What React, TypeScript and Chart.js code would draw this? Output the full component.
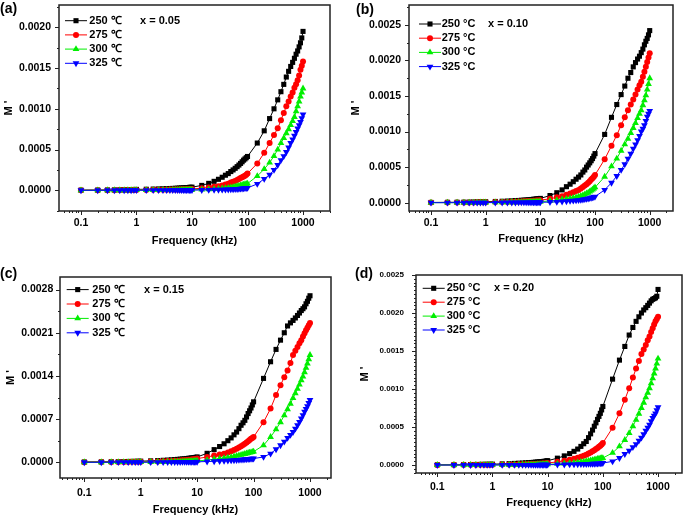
import React, { useEffect, useRef } from 'react';
import { Chart, registerables } from 'chart.js';

Chart.register(...registerables);

const FONT = '"Liberation Sans", Arial, Helvetica, sans-serif';

// Frequency (kHz)
const freq = [
  0.1, 0.2, 0.3, 0.4, 0.5, 0.6, 0.7, 0.8, 0.9, 1,
  1.5, 2, 2.5, 3, 3.5, 4, 4.5, 5, 5.5, 6, 6.5, 7, 7.5, 8, 8.5, 9, 9.5, 10,
  15, 20, 25, 30, 35, 40, 45, 50, 55, 60, 65, 70, 75, 80, 85, 90, 95, 100,
  150, 200, 250, 300, 350, 400, 450, 500, 550, 600, 650, 700, 750, 800, 850, 900, 950, 1000,
];

const xTickValues = [0.1, 1, 10, 100, 1000];
const xTickLabels = ['0.1', '1', '10', '100', '1000'];

// M' values, in units of 1e-4
// (a) x = 0.05
const a250 = [
  0.02, 0.03, 0.04, 0.05, 0.06, 0.07, 0.08, 0.09, 0.10, 0.11,
  0.13, 0.15, 0.17, 0.19, 0.20, 0.22, 0.23, 0.25, 0.26, 0.28, 0.29, 0.30, 0.32, 0.33, 0.34, 0.36, 0.37, 0.38,
  0.60, 0.85, 1.10, 1.35, 1.60, 1.85, 2.05, 2.30, 2.50, 2.70, 2.90, 3.10, 3.30, 3.50, 3.70, 3.85, 4.00, 4.15,
  5.8, 7.3, 8.8, 10.0, 11.1, 12.1, 13.0, 13.9, 14.6, 15.2, 15.7, 16.2, 16.7, 17.1, 17.6, 18.1, 18.7, 19.5,
];
const a275 = [
  0.01, 0.01, 0.02, 0.02, 0.03, 0.03, 0.03, 0.04, 0.04, 0.04,
  0.05, 0.06, 0.07, 0.07, 0.08, 0.09, 0.09, 0.10, 0.11, 0.11, 0.12, 0.13, 0.13, 0.14, 0.15, 0.15, 0.16, 0.17,
  0.25, 0.35, 0.43, 0.50, 0.60, 0.70, 0.80, 0.95, 1.05, 1.15, 1.25, 1.40, 1.50, 1.60, 1.70, 1.80, 1.90, 2.05,
  3.3, 4.6, 5.8, 6.8, 7.6, 8.6, 9.5, 10.3, 10.9, 11.5, 12.0, 12.6, 13.0, 13.5, 14.1, 14.8, 15.3, 15.8,
];
const a300 = [
  0, 0, 0.01, 0.01, 0.01, 0.01, 0.01, 0.01, 0.02, 0.02,
  0.02, 0.02, 0.03, 0.03, 0.03, 0.03, 0.04, 0.04, 0.04, 0.04, 0.05, 0.05, 0.05, 0.05, 0.06, 0.06, 0.06, 0.06,
  0.09, 0.12, 0.15, 0.18, 0.22, 0.26, 0.30, 0.35, 0.40, 0.45, 0.50, 0.55, 0.60, 0.65, 0.70, 0.74, 0.78, 0.82,
  1.75, 2.6, 3.4, 4.2, 5.0, 5.8, 6.4, 7.0, 7.5, 8.0, 8.5, 9.0, 9.7, 10.3, 10.9, 11.5, 12.0, 12.5,
];
const a325 = [
  0, 0, 0, 0, 0, 0, 0, 0, 0.01, 0.01,
  0.01, 0.01, 0.01, 0.01, 0.01, 0.02, 0.02, 0.02, 0.02, 0.02, 0.02, 0.02, 0.02, 0.02, 0.03, 0.03, 0.03, 0.03,
  0.04, 0.05, 0.06, 0.07, 0.08, 0.09, 0.10, 0.11, 0.13, 0.14, 0.16, 0.18, 0.20, 0.22, 0.24, 0.26, 0.28, 0.30,
  0.78, 1.4, 1.9, 2.5, 3.1, 3.7, 4.2, 4.7, 5.25, 5.8, 6.25, 6.7, 7.15, 7.6, 8.0, 8.4, 8.85, 9.3,
];

// (b) x = 0.10
const b250 = [
  0.03, 0.05, 0.06, 0.07, 0.08, 0.09, 0.10, 0.11, 0.12, 0.13,
  0.17, 0.20, 0.23, 0.26, 0.29, 0.31, 0.34, 0.36, 0.38, 0.41, 0.43, 0.45, 0.48, 0.50, 0.52, 0.55, 0.57, 0.60,
  1.0, 1.4, 1.8, 2.25, 2.6, 2.95, 3.3, 3.6, 3.9, 4.3, 4.6, 5.0, 5.3, 5.6, 5.9, 6.2, 6.55, 6.9,
  9.6, 12.0, 13.8, 15.2, 16.4, 17.5, 18.3, 19.1, 19.7, 20.2, 20.6, 21.1, 21.6, 22.2, 22.7, 23.1, 23.6, 24.2,
];
const b275 = [
  0.02, 0.02, 0.03, 0.03, 0.04, 0.04, 0.05, 0.05, 0.06, 0.06,
  0.08, 0.10, 0.11, 0.13, 0.14, 0.16, 0.17, 0.19, 0.20, 0.22, 0.23, 0.24, 0.26, 0.27, 0.29, 0.30, 0.32, 0.35,
  0.55, 0.75, 0.92, 1.1, 1.3, 1.45, 1.65, 1.8, 2.0, 2.2, 2.4, 2.6, 2.8, 3.0, 3.25, 3.45, 3.65, 3.9,
  6.1, 8.0, 9.5, 10.9, 12.0, 13.0, 13.8, 14.5, 15.2, 15.9, 16.5, 17.0, 17.7, 18.4, 19.1, 19.8, 20.4, 21.0,
];
const b300 = [
  0.01, 0.01, 0.01, 0.02, 0.02, 0.02, 0.02, 0.03, 0.03, 0.03,
  0.04, 0.05, 0.05, 0.06, 0.07, 0.07, 0.08, 0.08, 0.09, 0.09, 0.10, 0.10, 0.11, 0.11, 0.12, 0.12, 0.13, 0.14,
  0.25, 0.35, 0.45, 0.52, 0.60, 0.68, 0.76, 0.85, 0.95, 1.05, 1.15, 1.3, 1.4, 1.55, 1.7, 1.85, 2.0, 2.15,
  3.65, 5.1, 6.2, 7.3, 8.2, 9.0, 9.8, 10.5, 11.2, 11.9, 12.5, 13.0, 13.7, 14.4, 15.1, 15.9, 16.7, 17.5,
];
const b325 = [
  0, 0, 0, 0.01, 0.01, 0.01, 0.01, 0.01, 0.01, 0.01,
  0.01, 0.02, 0.02, 0.02, 0.02, 0.03, 0.03, 0.03, 0.03, 0.03, 0.04, 0.04, 0.04, 0.04, 0.04, 0.05, 0.05, 0.05,
  0.09, 0.12, 0.16, 0.2, 0.24, 0.28, 0.32, 0.35, 0.4, 0.44, 0.49, 0.54, 0.59, 0.64, 0.69, 0.74, 0.8, 0.85,
  1.8, 2.8, 3.75, 4.6, 5.4, 6.2, 6.9, 7.6, 8.2, 8.8, 9.4, 10.0, 10.4, 10.9, 11.5, 12.1, 12.5, 12.9,
];

// (c) x = 0.15
const c250 = [
  0.05, 0.07, 0.09, 0.10, 0.12, 0.13, 0.14, 0.15, 0.17, 0.18,
  0.23, 0.28, 0.32, 0.36, 0.40, 0.44, 0.47, 0.51, 0.54, 0.57, 0.61, 0.64, 0.67, 0.70, 0.73, 0.77, 0.80, 0.86,
  1.45, 2.05, 2.55, 3.0, 3.5, 3.95, 4.45, 4.9, 5.45, 6.0, 6.4, 6.8, 7.35, 7.9, 8.35, 8.8, 9.3, 9.8,
  13.6, 16.3, 18.3, 19.8, 21.0, 22.1, 22.6, 23.0, 23.4, 23.8, 24.2, 24.6, 24.9, 25.2, 25.7, 26.1, 26.6, 27.0,
];
const c275 = [
  0.02, 0.03, 0.04, 0.05, 0.05, 0.06, 0.07, 0.07, 0.08, 0.08,
  0.11, 0.14, 0.16, 0.19, 0.21, 0.24, 0.26, 0.29, 0.31, 0.34, 0.36, 0.39, 0.41, 0.44, 0.47, 0.50, 0.53, 0.60,
  0.85, 1.1, 1.25, 1.4, 1.6, 1.8, 2.0, 2.2, 2.4, 2.6, 2.8, 3.0, 3.2, 3.4, 3.6, 3.8, 3.95, 4.1,
  6.5, 8.7, 10.9, 12.5, 13.8, 14.9, 16.1, 17.4, 18.1, 18.7, 19.3, 19.8, 20.4, 20.9, 21.4, 21.8, 22.2, 22.6,
];
const c300 = [
  0.01, 0.01, 0.02, 0.02, 0.02, 0.03, 0.03, 0.03, 0.03, 0.04,
  0.05, 0.06, 0.07, 0.08, 0.09, 0.10, 0.11, 0.12, 0.13, 0.14, 0.15, 0.16, 0.17, 0.18, 0.19, 0.20, 0.21, 0.22,
  0.35, 0.5, 0.6, 0.68, 0.76, 0.85, 0.95, 1.05, 1.12, 1.2, 1.28, 1.35, 1.43, 1.5, 1.56, 1.62, 1.67, 1.72,
  2.75, 4.1, 5.35, 6.5, 7.6, 8.6, 9.5, 10.4, 11.2, 11.9, 12.6, 13.3, 13.9, 14.6, 15.3, 16.0, 16.7, 17.4,
];
const c325 = [
  0, 0, 0.01, 0.01, 0.01, 0.01, 0.01, 0.01, 0.01, 0.01,
  0.02, 0.02, 0.03, 0.03, 0.03, 0.04, 0.04, 0.04, 0.05, 0.05, 0.05, 0.06, 0.06, 0.06, 0.07, 0.07, 0.07, 0.08,
  0.12, 0.16, 0.2, 0.24, 0.27, 0.3, 0.33, 0.36, 0.39, 0.42, 0.45, 0.48, 0.5, 0.52, 0.54, 0.56, 0.58, 0.6,
  0.86, 1.4, 2.1, 2.75, 3.35, 3.95, 4.45, 4.9, 5.45, 6.0, 6.55, 7.1, 7.65, 8.2, 8.65, 9.1, 9.6, 10.1,
];

// (d) x = 0.20
const d250 = [
  0.03, 0.04, 0.05, 0.06, 0.07, 0.08, 0.09, 0.10, 0.10, 0.11,
  0.15, 0.18, 0.21, 0.24, 0.26, 0.29, 0.31, 0.33, 0.35, 0.38, 0.40, 0.42, 0.44, 0.46, 0.48, 0.50, 0.53, 0.57,
  0.9, 1.2, 1.5, 1.8, 2.1, 2.45, 2.8, 3.1, 3.6, 4.1, 4.6, 5.1, 5.55, 6.0, 6.4, 6.8, 7.25, 7.7,
  11.3, 13.8, 15.6, 17.1, 18.1, 18.9, 19.5, 20.0, 20.4, 20.7, 21.0, 21.3, 21.6, 21.8, 21.9, 22.0, 22.2, 23.1,
];
const d275 = [
  0.01, 0.02, 0.02, 0.03, 0.03, 0.03, 0.04, 0.04, 0.04, 0.05,
  0.06, 0.07, 0.08, 0.09, 0.10, 0.11, 0.12, 0.13, 0.14, 0.15, 0.16, 0.17, 0.18, 0.19, 0.20, 0.21, 0.22, 0.26,
  0.42, 0.57, 0.7, 0.83, 0.96, 1.1, 1.22, 1.35, 1.5, 1.65, 1.8, 1.95, 2.1, 2.25, 2.4, 2.55, 2.7, 2.9,
  4.9, 6.8, 8.6, 10.1, 11.5, 12.7, 13.7, 14.6, 15.2, 15.8, 16.4, 16.9, 17.5, 18.0, 18.5, 18.9, 19.2, 19.5,
];
const d300 = [
  0.01, 0.01, 0.01, 0.01, 0.02, 0.02, 0.02, 0.02, 0.02, 0.02,
  0.03, 0.03, 0.04, 0.04, 0.05, 0.05, 0.05, 0.06, 0.06, 0.06, 0.07, 0.07, 0.08, 0.08, 0.08, 0.09, 0.09, 0.10,
  0.15, 0.2, 0.25, 0.3, 0.35, 0.4, 0.45, 0.5, 0.55, 0.6, 0.65, 0.7, 0.75, 0.79, 0.83, 0.86, 0.89, 0.92,
  1.6, 2.45, 3.3, 4.2, 5.1, 5.95, 6.75, 7.5, 8.2, 8.9, 9.5, 10.1, 10.75, 11.4, 12.05, 12.7, 13.35, 14.0,
];
const d325 = [
  0, 0, 0, 0, 0, 0.01, 0.01, 0.01, 0.01, 0.01,
  0.01, 0.01, 0.01, 0.01, 0.02, 0.02, 0.02, 0.02, 0.02, 0.02, 0.02, 0.03, 0.03, 0.03, 0.03, 0.03, 0.03, 0.04,
  0.06, 0.07, 0.08, 0.09, 0.1, 0.11, 0.12, 0.13, 0.14, 0.15, 0.16, 0.17, 0.18, 0.19, 0.21, 0.22, 0.24, 0.26,
  0.48, 0.92, 1.45, 1.9, 2.35, 2.75, 3.2, 3.6, 4.05, 4.5, 4.9, 5.3, 5.75, 6.2, 6.5, 6.8, 7.2, 7.6,
];

const yTicksA = [0, 5, 10, 15, 20];
const yLabelsA = ['0.0000', '0.0005', '0.0010', '0.0015', '0.0020'];
const yTicksB = [0, 5, 10, 15, 20, 25];
const yLabelsB = ['0.0000', '0.0005', '0.0010', '0.0015', '0.0020', '0.0025'];
const yTicksC = [0, 7, 14, 21, 28];
const yLabelsC = ['0.0000', '0.0007', '0.0014', '0.0021', '0.0028'];
const yTicksD = [0, 5, 10, 15, 20, 25];
const yLabelsD = ['0.0000', '0.0005', '0.0010', '0.0015', '0.0020', '0.0025'];

const labelsCelsiusSign = ['250 ℃', '275 ℃', '300 ℃', '325 ℃'];
const labelsDegC = ['250 °C', '275 °C', '300 °C', '325 °C'];

const colors = ['#000000', '#ff0000', '#00ee00', '#0000ff'];
const pointStyles = ['rect', 'circle', 'triangle', 'triangle'];
const pointRotations = [0, 0, 0, 180];
const pointRadii = [3.6, 3, 3.9, 3.9];

const panels = [
  {
    tag: '(a)', note: 'x = 0.05', series: [a250, a275, a300, a325], labels: labelsCelsiusSign,
    yTicks: yTicksA, yLabels: yLabelsA, yMinor: 2.5, yFont: 10.5,
    cx: 0, cy: 0, cw: 342, ch: 255, padTop: 5, padRight: 12, yW: 59, xH: 44,
    xMin: 0.0402, xMax: 3062, yMin: -2.54, yMax: 22.74,
    yLabPad: 8, xLabPad: 5.7, yTitlePad: 1.9, xTitlePad: 7.4,
    legX: 6, legY: 15.7, legDy: 14.2, legText: 30.3, noteX: 81, tagX: 0, tagY: 9,
  },
  {
    tag: '(b)', note: 'x = 0.10', series: [b250, b275, b300, b325], labels: labelsDegC,
    yTicks: yTicksB, yLabels: yLabelsB, yMinor: 2.5, yFont: 10.5,
    cx: 342, cy: 0, cw: 343, ch: 255, padTop: 5, padRight: 12, yW: 67, xH: 44,
    xMin: 0.0396, xMax: 2667, yMin: -1.17, yMax: 27.8,
    yLabPad: 8, xLabPad: 5.7, yTitlePad: 7.4, xTitlePad: 9.1,
    legX: 10, legY: 19, legDy: 14.2, legText: 32.7, noteX: 79, tagX: 14, tagY: 10,
  },
  {
    tag: '(c)', note: 'x = 0.15', series: [c250, c275, c300, c325], labels: labelsCelsiusSign,
    yTicks: yTicksC, yLabels: yLabelsC, yMinor: 3.5, yFont: 10.5,
    cx: 0, cy: 255, cw: 342, ch: 262, padTop: 22, padRight: 11, yW: 60, xH: 39,
    xMin: 0.0371, xMax: 2355, yMin: -2.55, yMax: 30.04,
    yLabPad: 6.7, xLabPad: 8.7, yTitlePad: 4.4, xTitlePad: 0.4,
    legX: 6.7, legY: 12.6, legDy: 14.4, legText: 32.3, noteX: 84, tagX: 0, tagY: 19,
  },
  {
    tag: '(d)', note: 'x = 0.20', series: [d250, d275, d300, d325], labels: labelsDegC,
    yTicks: yTicksD, yLabels: yLabelsD, yMinor: 0.5, yFont: 8,
    cx: 342, cy: 255, cw: 343, ch: 262, padTop: 20, padRight: 3, yW: 74, xH: 44,
    xMin: 0.0411, xMax: 2718, yMin: -1.05, yMax: 25,
    yLabPad: 12, xLabPad: 7.7, yTitlePad: 16.4, xTitlePad: 7.1,
    legX: 6.7, legY: 13.3, legDy: 13.9, legText: 30.7, noteX: 78, tagX: 13, tagY: 19,
  },
];

function drawMarker(ctx: CanvasRenderingContext2D, style: string, rot: number, x: number, y: number, r: number, color: string) {
  ctx.fillStyle = color;
  ctx.beginPath();
  if (style === 'rect') {
    const s = r * Math.SQRT1_2;
    ctx.rect(x - s, y - s, 2 * s, 2 * s);
  } else if (style === 'circle') {
    ctx.arc(x, y, r, 0, Math.PI * 2);
  } else {
    let a = (rot * Math.PI) / 180;
    ctx.moveTo(x + Math.sin(a) * r, y - Math.cos(a) * r);
    a += (2 * Math.PI) / 3;
    ctx.lineTo(x + Math.sin(a) * r, y - Math.cos(a) * r);
    a += (2 * Math.PI) / 3;
    ctx.lineTo(x + Math.sin(a) * r, y - Math.cos(a) * r);
    ctx.closePath();
  }
  ctx.fill();
}

function makeDecor(p: any) {
  return {
    id: 'decor',
    afterDatasetsDraw(chart: any) {
      const { ctx, chartArea: ca } = chart;
      const xs = chart.scales.x;
      const ys = chart.scales.y;
      ctx.save();
      // frame
      ctx.strokeStyle = '#222';
      ctx.lineWidth = 1.5;
      ctx.strokeRect(ca.left, ca.top, ca.right - ca.left, ca.bottom - ca.top);
      // ticks
      ctx.lineWidth = 1;
      ctx.beginPath();
      const i0 = Math.ceil(ys.min / p.yMinor - 1e-9);
      const i1 = Math.floor(ys.max / p.yMinor + 1e-9);
      for (let i = i0; i <= i1; i++) {
        const v = i * p.yMinor;
        const y = Math.round(ys.getPixelForValue(v)) + 0.5;
        const major = p.yTicks.some((t: number) => Math.abs(t - v) < 1e-6);
        ctx.moveTo(ca.left, y);
        ctx.lineTo(ca.left - (major ? 4 : 2), y);
      }
      for (let e = -2; e <= 4; e++) {
        for (let k = 1; k <= 9; k++) {
          const v = k * Math.pow(10, e);
          if (v < xs.min || v > xs.max) continue;
          const x = Math.round(xs.getPixelForValue(v)) + 0.5;
          ctx.moveTo(x, ca.bottom);
          ctx.lineTo(x, ca.bottom + (k === 1 ? 4 : 2));
        }
      }
      ctx.stroke();
      // legend
      ctx.font = `bold 11px ${FONT}`;
      ctx.textBaseline = 'middle';
      ctx.textAlign = 'left';
      chart.data.datasets.forEach((ds: any, i: number) => {
        const y = ca.top + p.legY + i * p.legDy;
        const x0 = ca.left + p.legX;
        ctx.strokeStyle = ds.borderColor;
        ctx.lineWidth = 1;
        ctx.beginPath();
        ctx.moveTo(x0, y);
        ctx.lineTo(x0 + 22, y);
        ctx.stroke();
        drawMarker(ctx, ds.pointStyle, ds.pointRotation, x0 + 11, y, ds.pointRadius, ds.borderColor);
        ctx.fillStyle = '#000';
        ctx.fillText(ds.label, ca.left + p.legText, y);
      });
      ctx.fillStyle = '#000';
      ctx.fillText(p.note, ca.left + p.noteX, ca.top + p.legY);
      // panel tag
      ctx.font = `bold 14px ${FONT}`;
      ctx.fillText(p.tag, p.tagX, p.tagY);
      ctx.restore();
    },
  };
}

function Panel({ p }: { p: any }) {
  const ref = useRef<HTMLCanvasElement>(null);
  useEffect(() => {
    const canvas = ref.current;
    if (!canvas) return;
    const chart = new Chart(canvas, {
      type: 'line',
      data: {
        datasets: p.series.map((s: number[], i: number) => ({
          label: p.labels[i],
          data: freq.map((f, j) => ({ x: f, y: s[j] })),
          borderColor: colors[i],
          backgroundColor: colors[i],
          pointBackgroundColor: colors[i],
          borderWidth: 1,
          pointStyle: pointStyles[i],
          pointRotation: pointRotations[i],
          pointRadius: pointRadii[i],
          pointBorderWidth: 0,
          tension: 0,
          fill: false,
          order: 3 - i,
        })),
      },
      options: {
        animation: false,
        responsive: false,
        events: [],
        layout: { padding: { left: 0, top: p.padTop, right: p.padRight, bottom: 0 }, autoPadding: false },
        plugins: { legend: { display: false }, tooltip: { enabled: false } },
        scales: {
          x: {
            type: 'logarithmic',
            min: p.xMin,
            max: p.xMax,
            afterBuildTicks: (s: any) => {
              s.ticks = xTickValues.map((v) => ({ value: v }));
            },
            afterFit: (s: any) => {
              s.height = p.xH;
              s.paddingLeft = 0;
              s.paddingRight = 0;
            },
            ticks: {
              autoSkip: false,
              maxRotation: 0,
              padding: p.xLabPad,
              color: '#000',
              font: { family: FONT, size: 10.5, weight: 'bold' },
              callback: (_v: any, i: number) => xTickLabels[i],
            },
            grid: { display: false, drawTicks: false },
            border: { display: false },
            title: {
              display: true,
              text: 'Frequency (kHz)',
              color: '#000',
              font: { family: FONT, size: 11, weight: 'bold' },
              padding: { top: 0, bottom: p.xTitlePad },
            },
          },
          y: {
            type: 'linear',
            min: p.yMin,
            max: p.yMax,
            afterBuildTicks: (s: any) => {
              s.ticks = p.yTicks.map((v: number) => ({ value: v }));
            },
            afterFit: (s: any) => {
              s.width = p.yW;
              s.paddingTop = 0;
              s.paddingBottom = 0;
            },
            ticks: {
              autoSkip: false,
              padding: p.yLabPad,
              color: '#000',
              font: { family: FONT, size: p.yFont, weight: 'bold' },
              callback: (_v: any, i: number) => p.yLabels[i],
            },
            grid: { display: false, drawTicks: false },
            border: { display: false },
            title: {
              display: true,
              text: "M '",
              color: '#000',
              font: { family: FONT, size: 11, weight: 'bold' },
              padding: { top: p.yTitlePad, bottom: 0 },
            },
          },
        },
      } as any,
      plugins: [makeDecor(p)],
    });
    return () => chart.destroy();
  }, [p]);
  return (
    <canvas
      ref={ref}
      width={p.cw}
      height={p.ch}
      style={{ position: 'absolute', left: p.cx, top: p.cy, width: p.cw, height: p.ch }}
    />
  );
}

export default function App() {
  return (
    <div style={{ position: 'absolute', left: 0, top: 0, width: 685, height: 517, background: '#fff' }}>
      {panels.map((p) => (
        <Panel key={p.tag} p={p} />
      ))}
    </div>
  );
}
